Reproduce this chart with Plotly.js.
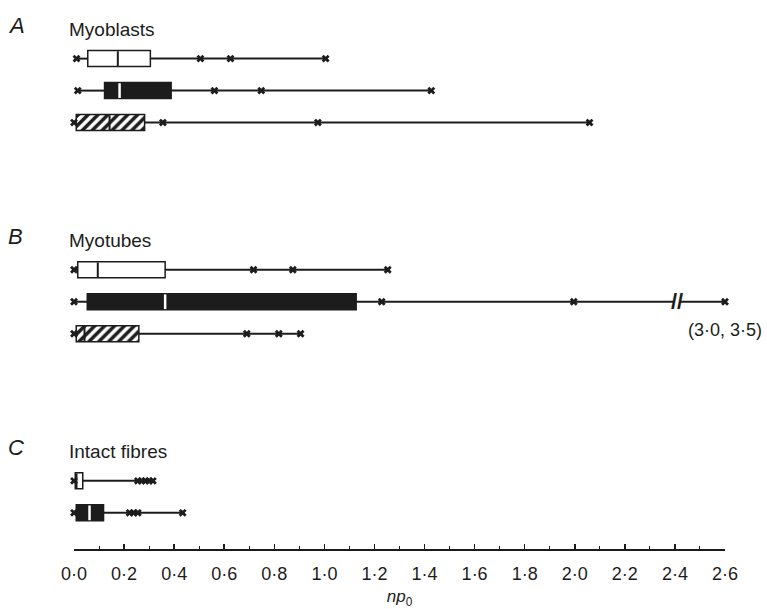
<!DOCTYPE html>
<html>
<head>
<meta charset="utf-8">
<script src="https://cdn.plot.ly/plotly-3.0.1.min.js"></script>
<style>html,body{margin:0;padding:0;background:#fff;}#chart{width:767px;height:609px;}</style>
</head>
<body>
<div id="chart"></div>
<script>
// ---- data ----
const groupNames   = ['Myoblasts', 'Myotubes', 'Intact fibres'];
const groupLetters = ['A', 'B', 'C'];
const rowGroup     = [0, 0, 0, 1, 1, 1, 2, 2];
const rowStyle     = ['open', 'solid', 'hatched', 'open', 'solid', 'hatched', 'open', 'solid'];
const minVal  = [0.010, 0.015, 0.000, 0.000, 0.000, 0.000, 0.000, 0.000];
const q1      = [0.055, 0.122, 0.009, 0.015, 0.053, 0.009, 0.005, 0.009];
const median  = [0.175, 0.182, 0.142, 0.095, 0.364, 0.042, 0.010, 0.062];
const q3      = [0.305, 0.388, 0.282, 0.364, 1.127, 0.259, 0.035, 0.118];
const outliers = [
  [0.505, 0.625, 1.005],
  [0.561, 0.748, 1.427],
  [0.355, 0.974, 2.059],
  [0.717, 0.874, 1.253],
  [1.229, 1.996],
  [0.690, 0.818, 0.905],
  [0.255, 0.270, 0.285, 0.300, 0.315],
  [0.222, 0.238, 0.255, 0.434]
];
const offscale = [[], [], [], [], [3.0, 3.5], [], [], []];
const axisBreak = 2.41;
const tickVals = [0, 0.2, 0.4, 0.6, 0.8, 1.0, 1.2, 1.4, 1.6, 1.8, 2.0, 2.2, 2.4, 2.6];
const tickText = ['0·0','0·2','0·4','0·6','0·8','1·0','1·2','1·4','1·6','1·8','2·0','2·2','2·4','2·6'];
const xMax = 2.6;

// ---- layout helpers ----
const FONT = 'Liberation Sans, Arial, Helvetica, sans-serif';
const INK = '#1c1c1c';
const GROUP_STEP = 6.6;
const BOX_H = 0.5;
const withinIdx = [];
{ const c = {}; rowGroup.forEach(g => { c[g] = (c[g] || 0); withinIdx.push(c[g]); c[g]++; }); }
const pos = rowGroup.map((g, i) => g * GROUP_STEP + withinIdx[i]);
const fmt = v => v.toFixed(1).replace('.', '·');

const traces = [];
// boxes
rowStyle.forEach((s, i) => {
  const m = {line: {color: INK, width: 1.5}};
  if (s === 'open') m.color = '#ffffff';
  else if (s === 'solid') m.color = INK;
  else { m.color = '#ffffff'; m.pattern = {shape: '/', fgcolor: INK, bgcolor: '#ffffff', size: 7, solidity: 0.5, fillmode: 'replace'}; }
  traces.push({type: 'bar', orientation: 'h', y: [pos[i]], x: [q3[i] - q1[i]], base: [q1[i]],
    width: [BOX_H], marker: m, hoverinfo: 'skip'});
});
// whiskers (broken where an axis break sits)
rowStyle.forEach((s, i) => {
  const hasBreak = offscale[i].length > 0;
  const end = hasBreak ? xMax : Math.max(...outliers[i]);
  const xs = [minVal[i], q1[i], null, q3[i]];
  const ys = [pos[i], pos[i], null, pos[i]];
  if (hasBreak) { xs.push(axisBreak - 0.012, null, axisBreak + 0.012, end); ys.push(pos[i], null, pos[i], pos[i]); }
  else { xs.push(end); ys.push(pos[i]); }
  traces.push({type: 'scatter', mode: 'lines', x: xs, y: ys, line: {color: INK, width: 2},
    cliponaxis: false, hoverinfo: 'skip'});
});
// medians
rowStyle.forEach((s, i) => {
  traces.push({type: 'scatter', mode: 'lines', x: [median[i], median[i]],
    y: [pos[i] - BOX_H / 2 + 0.02, pos[i] + BOX_H / 2 - 0.02],
    line: {color: s === 'solid' ? '#ffffff' : INK, width: s === 'solid' ? 2.5 : 2},
    hoverinfo: 'skip'});
});
// point markers
rowStyle.forEach((s, i) => {
  const xs = [minVal[i]].concat(outliers[i]).concat(offscale[i].length ? [xMax] : []);
  traces.push({type: 'scatter', mode: 'markers', x: xs, y: xs.map(() => pos[i]),
    marker: {symbol: 'x', size: 7, color: INK}, cliponaxis: false, hoverinfo: 'skip'});
});

const annotations = [];
groupNames.forEach((name, g) => {
  const top = g * GROUP_STEP;
  annotations.push({xref: 'paper', yref: 'y', x: -0.105, y: top - 1.03, xanchor: 'left', yanchor: 'middle',
    text: '<i>' + groupLetters[g] + '</i>', showarrow: false, font: {family: FONT, size: 22, color: INK}});
  annotations.push({xref: 'paper', yref: 'y', x: -0.01, y: top - 0.92, xanchor: 'left', yanchor: 'middle',
    text: name, showarrow: false, font: {family: FONT, size: 19, color: INK}});
});
offscale.forEach((vals, i) => {
  if (!vals.length) return;
  annotations.push({xref: 'x', yref: 'y', x: axisBreak, y: pos[i], xanchor: 'center', yanchor: 'middle',
    text: '<b>//</b>', showarrow: false, font: {family: FONT, size: 22, color: INK}});
  annotations.push({xref: 'x', yref: 'y', x: xMax, y: pos[i] + 0.88, xanchor: 'center', yanchor: 'middle',
    text: '(' + vals.map(fmt).join(', ') + ')', showarrow: false, font: {family: FONT, size: 18, color: INK}});
});

const layout = {
  width: 767, height: 609,
  margin: {l: 74, r: 42, t: 10, b: 60},
  paper_bgcolor: '#ffffff', plot_bgcolor: '#ffffff',
  showlegend: false, barmode: 'overlay',
  font: {family: FONT, color: INK},
  xaxis: {
    range: [0, xMax], tickmode: 'array', tickvals: tickVals, ticktext: tickText,
    ticks: 'inside', ticklen: 5, tickwidth: 1.5, tickcolor: INK,
    showline: true, linewidth: 2, linecolor: INK, showgrid: false, zeroline: false,
    tickfont: {family: FONT, size: 18, color: INK}, ticklabelstandoff: 7,
    minor: {tickmode: 'linear', tick0: 0, dtick: 0.1, ticks: 'inside', ticklen: 3, tickwidth: 1, tickcolor: INK, showgrid: false},
    title: {text: '<i>np</i><sub>0</sub>', font: {family: FONT, size: 17, color: INK}, standoff: 9},
    fixedrange: true
  },
  yaxis: {visible: false, range: [15.33, -1.52], autorange: false, fixedrange: true},
  annotations: annotations
};

Plotly.newPlot('chart', traces, layout, {displayModeBar: false, staticPlot: true});
</script>
</body>
</html>
